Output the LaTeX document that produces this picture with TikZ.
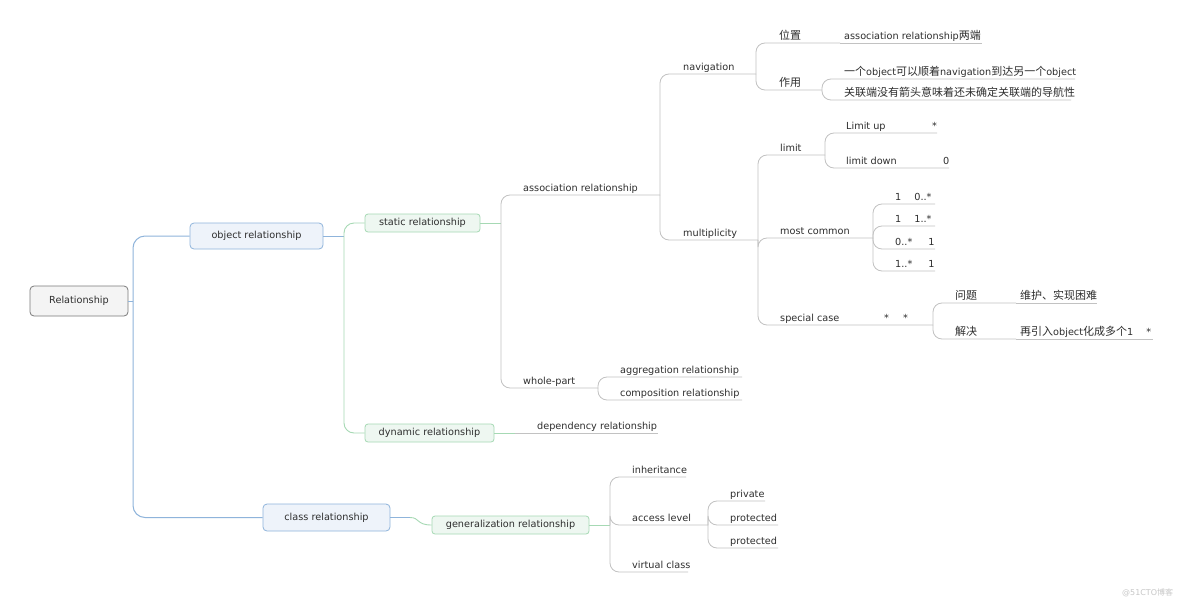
\documentclass[tikz,border=0pt]{standalone}
\usepackage{fontspec}
\setmainfont{DejaVu Sans}
\newfontfamily\cjk{Noto Sans CJK SC}
\newcommand{\zh}[1]{{\cjk\fontsize{11}{12}\selectfont #1}}
\definecolor{txt}{HTML}{2E2E2E}
\definecolor{lnc}{HTML}{C2C2C2}
\definecolor{bluel}{HTML}{8FB4DB}
\definecolor{bluef}{HTML}{EEF3FA}
\definecolor{greenl}{HTML}{A6D9B4}
\definecolor{greenf}{HTML}{EEF7F1}
\definecolor{rootl}{HTML}{7A7A7A}
\definecolor{rootf}{HTML}{F4F4F4}
\newcommand{\tp}[5]{%
  \coordinate (#1) at (#4,#3);
  \node[topic] (#1-t) at (#2,#3-3.5) {#5};}
\begin{document}
\begin{tikzpicture}[x=1pt,y=-1pt,
  font=\fontsize{9.7}{11}\selectfont,
  topic/.style={anchor=base west, inner sep=0pt, text=txt},
  gl/.style={draw=lnc, line width=0.85pt, rounded corners=9pt},
  bl/.style={draw=bluel, line width=1pt, rounded corners=12pt},
  grl/.style={draw=greenl, line width=0.9pt, rounded corners=10pt},
  rootbox/.style={draw=rootl, fill=rootf, rounded corners=4pt, line width=0.8pt, text=txt, minimum width=98pt, minimum height=30pt, inner sep=0pt},
  bluebox/.style={draw=bluel, fill=bluef, rounded corners=4pt, line width=0.8pt, text=txt, minimum height=26pt, inner sep=0pt},
  greenbox/.style={draw=greenl, fill=greenf, rounded corners=3pt, line width=0.8pt, text=txt, minimum height=18pt, inner sep=0pt},
  wm/.style={text=black!22, font=\fontsize{8}{9}\selectfont, anchor=base west, inner sep=0pt}
]
\useasboundingbox (0,0) rectangle (1184,603);
\fill[white] (0,0) rectangle (1184,603);

% boxes
\node[rootbox] (root) at (79,301) {Relationship};
\node[bluebox, minimum width=133pt] (obj) at (256.5,236) {object relationship};
\node[bluebox, minimum width=127pt, minimum height=27pt] (cls) at (326.5,517.5) {class relationship};
\node[greenbox, minimum width=115pt] (stat) at (422.5,223) {static relationship};
\node[greenbox, minimum width=129pt] (dyn) at (429.5,433) {dynamic relationship};
\node[greenbox, minimum width=157pt] (gen) at (510.5,525) {generalization relationship};

% junction coordinates
\coordinate (jroot) at (133,301);
\coordinate (jobj) at (344,236);
\coordinate (jcls) at (410,517.5);
\coordinate (jstat) at (501,223);
\coordinate (jgen) at (610,525);

% main connectors
\draw[bl] (root.east) -- (jroot);
\draw[bl] (jroot) |- (obj.west);
\draw[bl] (jroot) |- (cls.west);
\draw[bl] (obj.east) -- (jobj);
\draw[grl] (jobj) |- (stat.west);
\draw[grl] (jobj) |- (dyn.west);
\draw[bl] (cls.east) -- (jcls);
\draw[draw=greenl, line width=0.9pt] (jcls) .. controls (420,517.5) and (416,525) .. (gen.west);
\draw[grl] (stat.east) -- (jstat);
\draw[grl] (gen.east) -- (jgen);

% topics
\tp{assoc}{523}{195}{660}{association relationship}
\tp{whole}{523}{388}{598}{whole-part}
\tp{nav}{683}{74}{756}{navigation}
\tp{mult}{683}{240}{758}{multiplicity}
\tp{wz}{779}{43}{840}{\zh{位置}}
\tp{wzc}{844}{43}{982}{association relationship\zh{两端}}
\tp{zy}{779}{90}{822}{\zh{作用}}
\tp{zy1}{844}{79}{1075}{\zh{一个}object\zh{可以顺着}navigation\zh{到达另一个}object}
\tp{zy2}{844}{100}{1071}{\zh{关联端没有箭头意味着还未确定关联端的导航性}}
\tp{lim}{780}{155}{825}{limit}
\tp{mc}{780}{238}{873}{most common}
\tp{sc}{780}{325}{933}{special case}
\tp{lup}{846}{133}{937}{Limit up}
\tp{ldn}{846}{168}{949}{limit down}
\tp{m1}{895}{204}{935}{1\hspace{13pt}0..*}
\tp{m2}{895}{226}{935}{1\hspace{13pt}1..*}
\tp{m3}{895}{249}{935}{0..*\hspace{16pt}1}
\tp{m4}{895}{271}{935}{1..*\hspace{16pt}1}
\tp{wt}{955}{303}{1016}{\zh{问题}}
\tp{wtc}{1020}{303}{1097}{\zh{维护、实现困难}}
\tp{jj}{955}{339}{1016}{\zh{解决}}
\tp{jjc}{1020}{339}{1153}{\zh{再引入}object\zh{化成多个}1\hspace{13pt}*}
\tp{agg}{620}{377}{742}{aggregation relationship}
\tp{comp}{620}{400}{742}{composition relationship}
\tp{dep}{537}{433}{658}{dependency relationship}
\tp{inh}{632}{477}{686}{inheritance}
\tp{acc}{632}{525}{708}{access level}
\tp{virt}{632}{572}{688}{virtual class}
\tp{priv}{730}{501}{765}{private}
\tp{prot1}{730}{525}{778}{protected}
\tp{prot2}{730}{548}{778}{protected}

\node[topic] (lupv) at (932,129.5) {*};
\node[topic] (ldnv) at (943,164.5) {0};
\node[topic] (scv) at (884,321.5) {*\hspace{14pt}*};

% gray connectors
\draw[gl] (jstat) |- (assoc);
\draw[gl] (jstat) |- (whole);
\draw[gl] (assoc) |- (nav);
\draw[gl] (assoc) |- (mult);
\draw[gl] (nav) |- (wz);
\draw[gl] (wz) -- (wzc);
\draw[gl] (nav) |- (zy);
\draw[gl] (zy) |- (zy1);
\draw[gl] (zy) |- (zy2);
\draw[gl] (mult) |- (lim);
\draw[gl] (mult) |- (mc);
\draw[gl] (mult) |- (sc);
\draw[gl] (lim) |- (lup);
\draw[gl] (lim) |- (ldn);
\draw[gl] (mc) |- (m1);
\draw[gl] (mc) |- (m2);
\draw[gl] (mc) |- (m3);
\draw[gl] (mc) |- (m4);
\draw[gl] (sc) |- (wt);
\draw[gl] (wt) -- (wtc);
\draw[gl] (sc) |- (jj);
\draw[gl] (jj) -- (jjc);
\draw[gl] (whole) |- (agg);
\draw[gl] (whole) |- (comp);
\draw[grl] (dyn.east) -- ++(21,0) coordinate (jdyn);
\draw[gl] (jdyn) -- (dep);
\draw[gl] (jgen) |- (inh);
\draw[gl] (jgen) |- (acc);
\draw[gl] (jgen) |- (virt);
\draw[gl] (acc) |- (priv);
\draw[gl] (acc) |- (prot1);
\draw[gl] (acc) |- (prot2);

\node[wm] (mark) at (1122,595) {@51CTO\zh{\fontsize{8}{9}\selectfont 博客}};
\end{tikzpicture}
\end{document}
